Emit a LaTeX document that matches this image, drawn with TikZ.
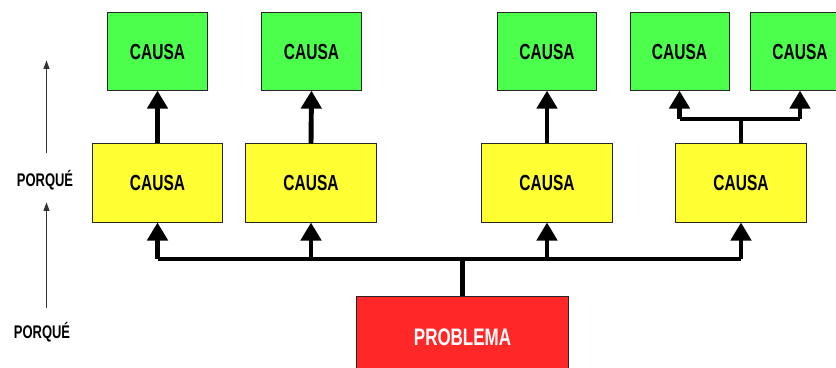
\documentclass[tikz,border=0pt]{standalone}
\usepackage{fontspec}
\setmainfont{Liberation Sans}[FakeStretch=0.71]
\usetikzlibrary{arrows.meta}
\usetikzlibrary{calc}

\definecolor{causaverde}{RGB}{77,255,77}
\definecolor{causaamarilla}{RGB}{255,255,51}
\definecolor{problemarojo}{RGB}{255,40,40}

\begin{document}
\begin{tikzpicture}[x=0.025cm, y=-0.025cm,
    caja/.style={draw=black!85, line width=0.7pt, inner sep=0pt,
      font=\bfseries\fontsize{15.5}{18}\selectfont},
    verde/.style={caja, fill=causaverde, minimum width=2.475cm, minimum height=1.93cm},
    amarilla/.style={caja, fill=causaamarilla, minimum width=3.25cm, minimum height=1.95cm},
    flecha/.style={line width=3.5pt, -{Triangle[width=0.5cm, length=0.45cm]}},
    linea/.style={line width=3.5pt},
    fina/.style={line width=1.3pt, black!80, -{Triangle[width=0.14cm, length=0.22cm]}},
    etiqueta/.style={font=\bfseries\fontsize{13}{15}\selectfont}]
          \clip (0,0) rectangle (836,368);
          \useasboundingbox (0,0) rectangle (836,368);

          \node[verde] (g1) at (157.5,51.5) {CAUSA};
          \node[verde] (g2) at (311.5,51.5) {CAUSA};
          \node[verde] (g3) at (547,51.5) {CAUSA};
          \node[verde] (g4) at (679.5,51.5) {CAUSA};
          \node[verde] (g5) at (800,51.5) {CAUSA};

          \node[amarilla] (y1) at (157.5,183) {CAUSA};
          \node[amarilla] (y2) at (311,183) {CAUSA};
          \node[amarilla] (y3) at (547,183) {CAUSA};
          \node[amarilla] (y4) at (741,183) {CAUSA};

          \node[caja, fill=problemarojo, text=white, minimum width=5.275cm, minimum height=2.05cm,
            font=\bfseries\fontsize{17}{20}\selectfont] (prob) at (462.5,337) {PROBLEMA};

          \coordinate (bus) at (0,259);
          \coordinate (rama) at (0,119);

          \draw[linea] (prob.north) -- (bus -| prob.north);
          \draw[linea] (bus -| y1.south) -- (bus -| y4.south);
          \foreach \n in {y1,y2,y3,y4}
            \draw[flecha] (bus -| \n.south) -- (\n.south);

          \draw[flecha] (y1.north) -- (g1.south);
          \draw[flecha] (y2.north) -- (g2.south);
          \draw[flecha] (y3.north) -- (g3.south);

          \draw[linea] (y4.north) -- (rama -| y4.north);
          \draw[linea] (rama -| g4.south) -- (rama -| g5.south);
          \draw[flecha] (rama -| g4.south) -- (g4.south);
          \draw[flecha] (rama -| g5.south) -- (g5.south);

          \node[etiqueta] (p1) at (45,180) {PORQUÉ};
          \node[etiqueta] (p2) at (42,332) {PORQUÉ};
          \coordinate (t1) at (46.5,60);
          \coordinate (t2) at (46.5,202);
          \coordinate (b2) at (46.5,308);
          \draw[fina] (p1.north -| t1) ++(0,-12) -- (t1);
          \draw[fina] (b2) -- (t2);
        \end{tikzpicture}
\end{document}
